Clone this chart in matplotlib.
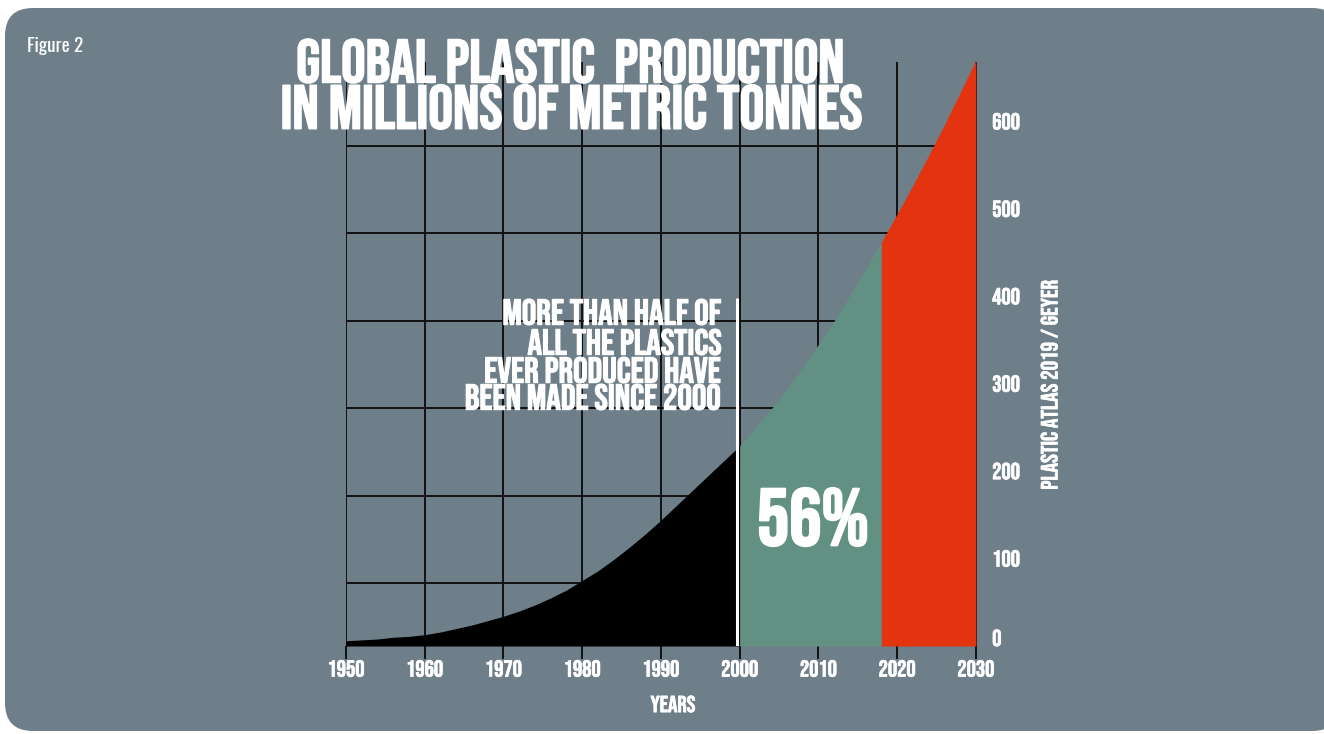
import numpy as np
import matplotlib
matplotlib.use("Agg")
import matplotlib.pyplot as plt
from matplotlib import font_manager
from matplotlib import patheffects as pe
from matplotlib.patches import FancyBboxPatch
from matplotlib.transforms import IdentityTransform

# data (million tonnes)
years = [1950, 1952, 1954, 1956, 1958, 1960, 1962, 1964, 1966, 1968,
         1970, 1972, 1974, 1976, 1978, 1980, 1982, 1984, 1986, 1988,
         1990, 1992, 1994, 1996, 1998, 2000, 2002, 2004, 2006, 2008,
         2010, 2012, 2014, 2016, 2018, 2020, 2022, 2024, 2026, 2028, 2030]
production = [6, 7, 8, 10, 11, 13, 16, 20, 24, 29,
              34, 40, 47, 55, 64, 75, 86, 99, 113, 128,
              144, 161, 178, 195, 212, 229, 250, 271, 294, 319,
              345, 372, 401, 431, 462, 494, 527, 561, 596, 633, 670]
split_years = [2000, 2018]
x_ticks = [1950, 1960, 1970, 1980, 1990, 2000, 2010, 2020, 2030]
y_ticks = [0, 100, 200, 300, 400, 500, 600]
grid_y = [72, 172, 272, 372, 472, 572]

BG = "#6f7f89"
GREEN = "#629082"
RED = "#e3330f"

# pick the narrowest font that is installed
FONT, STRETCH = "DejaVu Sans", "normal"
fonts = font_manager.fontManager.ttflist
names = {f.name for f in fonts}
for cand in ["Bebas Neue", "Oswald", "Roboto Condensed", "Liberation Sans Narrow",
             "Open Sans Condensed", "Arial Narrow"]:
    if cand in names:
        FONT = cand
        break
else:
    if any(f.name == "DejaVu Sans" and f.stretch == "condensed" for f in fonts):
        STRETCH = "condensed"
# a condensed font with lower case for "Figure 2"
SMALL = FONT
for cand in ["Oswald", "Roboto Condensed", "Liberation Sans Narrow", "Open Sans Condensed"]:
    if cand in names:
        SMALL = cand
        break

W, H = 1324, 734
fig = plt.figure(figsize=(W / 100, H / 100), dpi=100, facecolor="white")
r = fig.canvas.get_renderer()

def fx(x):
    return x / W

def fy(y):
    return 1 - y / H

def heavy(lw):
    return [pe.withStroke(linewidth=lw, foreground="white")]

# rounded card behind everything
card = FancyBboxPatch((5, 3), 1335, 723, boxstyle="round,pad=0,rounding_size=28",
                      transform=IdentityTransform(), facecolor=BG, edgecolor="none",
                      zorder=-10)
fig.patches.append(card)

def fit(t, width=None, height=None):
    bb = t.get_window_extent(renderer=r)
    cur = bb.width if width else bb.height
    t.set_fontsize(t.get_fontsize() * (width or height) / cur)

def label(s, x, y, w=None, size=None, ha="center", stroke=1.0):
    t = fig.text(fx(x), fy(y), s, ha=ha, va="baseline", fontsize=size or 30,
                 color="white", fontweight="bold", family=FONT, fontstretch=STRETCH,
                 zorder=5, path_effects=heavy(stroke))
    if w:
        fit(t, w)
    cap = t.get_fontsize() * 100 / 72 * 0.70
    t.set_y(fy(y + cap / 2))
    return t

# axes placed in pixel terms: left 346, right 979, top 62, bottom 646
ax = fig.add_axes([346 / W, (H - 646) / H, (979 - 346) / W, (646 - 62) / H])
ax.set_facecolor("none")
ax.set_xlim(1950, 2030.4)
ax.set_ylim(0, 668)
for s in ax.spines.values():
    s.set_visible(False)

ax.hlines(grid_y, 1950, 2030, color="#111111", lw=1.4, zorder=1)
ax.vlines(x_ticks, 0, 668, color="#111111", lw=1.4, zorder=1)

yrs = np.array(years)
prod = np.array(production)
m1 = yrs <= split_years[0]
m2 = (yrs >= split_years[0]) & (yrs <= split_years[1])
m3 = yrs >= split_years[1]
ax.fill_between(yrs[m1], 0, prod[m1], color="black", lw=0, zorder=2)
ax.fill_between(yrs[m2], 0, prod[m2], color=GREEN, lw=0, zorder=2)
ax.fill_between(yrs[m3], 0, prod[m3], color=RED, lw=0, zorder=2, clip_on=False)
ax.vlines(1999.7, 0, 398, color="white", lw=2.2, zorder=3)

# tick label size: fit "1950" to ~37 px
probe = fig.text(0, 0, "1950", fontsize=20, fontweight="bold", family=FONT, fontstretch=STRETCH)
fit(probe, 37)
fs_tick = probe.get_fontsize()
probe.remove()

ax.set_xticks(x_ticks)
ax.set_xticklabels([str(x) for x in x_ticks], color="white", fontsize=fs_tick,
                   fontweight="bold", family=FONT, fontstretch=STRETCH)
ax.tick_params(axis="x", length=9.5, width=1.4, color="#111111", pad=1)
ax.yaxis.tick_right()
ax.set_yticks(y_ticks)
ax.set_yticklabels([str(y) for y in y_ticks], color="white", fontsize=fs_tick,
                   fontweight="bold", family=FONT, fontstretch=STRETCH)
ax.tick_params(axis="y", length=0, pad=9.5)
ax.get_yticklabels()[0].set_va("bottom")
for t in ax.get_xticklabels() + ax.get_yticklabels():
    t.set_path_effects(heavy(0.5))

# texts
label("GLOBAL PLASTIC  PRODUCTION", 570, 61, w=548, stroke=1.2)
label("IN MILLIONS OF METRIC TONNES", 571, 107, w=582, stroke=1.2)

note = ["MORE THAN HALF OF", "ALL THE PLASTICS", "EVER PRODUCED HAVE", "BEEN MADE SINCE 2000"]
last = label(note[-1], 721, 397, w=256, ha="right", stroke=0.8)
for s, y in zip(note[:-1], [312, 342, 370]):
    label(s, 721, y, size=last.get_fontsize(), ha="right", stroke=0.8)

label("56%", 813, 517, w=112, stroke=1.6)
label("YEARS", 673, 704, size=fs_tick, stroke=0.5)

src = fig.text(fx(1049), fy(385), "PLASTIC ATLAS 2019 / GEYER", rotation=90, ha="center",
               va="center", color="white", fontsize=14, fontweight="bold",
               family=FONT, fontstretch=STRETCH, path_effects=heavy(0.4))
fit(src, height=210)

fig_t = fig.text(fx(27), fy(52), "Figure 2", ha="left", va="baseline", color="white",
                 fontsize=12, fontweight="bold", family=SMALL, fontstretch=STRETCH)
fit(fig_t, 56)

fig.savefig("out.png", dpi=100, facecolor="white")
